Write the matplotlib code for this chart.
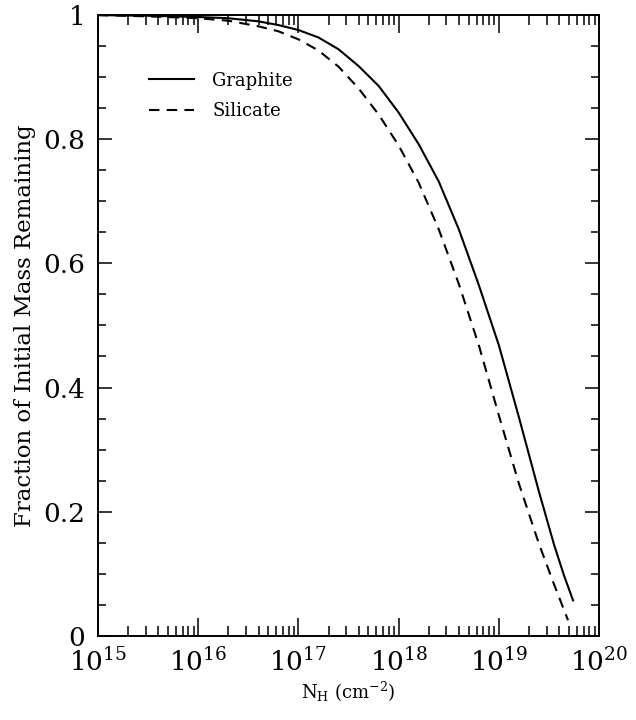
"""
Fractional grain mass remaining versus column density, graphite and silicate.
"""

import numpy as np
import matplotlib.pyplot as plt
from matplotlib.ticker import LogLocator, FixedLocator, MultipleLocator, FuncFormatter

plt.rcParams["font.family"] = "DejaVu Serif"
plt.rcParams["mathtext.fontset"] = "dejavuserif"

# log10 N_H (cm^-2) and fraction of initial mass remaining
graphite_logN = [15.0, 15.5, 16.0, 16.3, 16.6, 16.8, 17.0, 17.2, 17.4, 17.6, 17.8,
                 18.0, 18.2, 18.4, 18.6, 18.8, 19.0, 19.2, 19.4, 19.55, 19.65, 19.74]
graphite_frac = [1.000, 0.999, 0.997, 0.995, 0.990, 0.984, 0.976, 0.964, 0.945, 0.918,
                 0.886, 0.843, 0.792, 0.732, 0.655, 0.565, 0.468, 0.352, 0.232,
                 0.147, 0.097, 0.057]

silicate_logN = [15.0, 15.5, 16.0, 16.3, 16.6, 16.8, 17.0, 17.2, 17.4, 17.6, 17.8,
                 18.0, 18.2, 18.4, 18.6, 18.8, 19.0, 19.2, 19.4, 19.55, 19.69]
silicate_frac = [1.000, 0.998, 0.995, 0.991, 0.982, 0.974, 0.961, 0.943, 0.917, 0.882,
                 0.840, 0.790, 0.730, 0.655, 0.567, 0.468, 0.355, 0.245, 0.148,
                 0.083, 0.025]

y_ticks = [0, 0.2, 0.4, 0.6, 0.8, 1]
y_tick_labels = ["0", "0.2", "0.4", "0.6", "0.8", "1"]

fig = plt.figure(figsize=(6.36, 7.2), dpi=100)
ax = fig.add_axes([0.154, 0.117, 0.788, 0.862])

ax.plot(10 ** np.array(graphite_logN), graphite_frac, color="black", lw=1.5,
        label="Graphite")
ax.plot(10 ** np.array(silicate_logN), silicate_frac, color="black", lw=1.5,
        dashes=(5, 3.5), label="Silicate")

ax.set_xscale("log")
ax.set_xlim(1e15, 1e20)
ax.set_ylim(0, 1)

ax.xaxis.set_major_locator(LogLocator(base=10, numticks=10))
ax.xaxis.set_minor_locator(LogLocator(base=10, subs=np.arange(2, 10), numticks=20))
ax.yaxis.set_major_locator(FixedLocator(y_ticks))
ax.yaxis.set_major_formatter(FuncFormatter(
    lambda v, pos: y_tick_labels[y_ticks.index(round(v, 1))] if round(v, 1) in y_ticks else ""))
ax.yaxis.set_minor_locator(MultipleLocator(0.05))

ax.tick_params(which="both", direction="in", top=True, right=True, width=1.1,
               labelsize=19, colors="black")
ax.tick_params(axis="x", which="major", length=13, pad=9)
ax.tick_params(axis="x", which="minor", length=7)
ax.tick_params(axis="y", which="major", length=10, pad=9)
ax.tick_params(axis="y", which="minor", length=6)
for spine in ax.spines.values():
    spine.set_linewidth(1.4)

ax.set_xlabel(r"N$_{\rm H}$ (cm$^{-2}$)", fontsize=13, labelpad=2)
ax.set_ylabel("Fraction of Initial Mass Remaining", fontsize=16.5, labelpad=5)

ax.legend(loc="upper left", bbox_to_anchor=(0.07, 0.935), frameon=False,
          fontsize=13, handlelength=2.5, handletextpad=1.0, labelspacing=0.7)

fig.savefig("out.png", dpi=100)
plt.close(fig)
